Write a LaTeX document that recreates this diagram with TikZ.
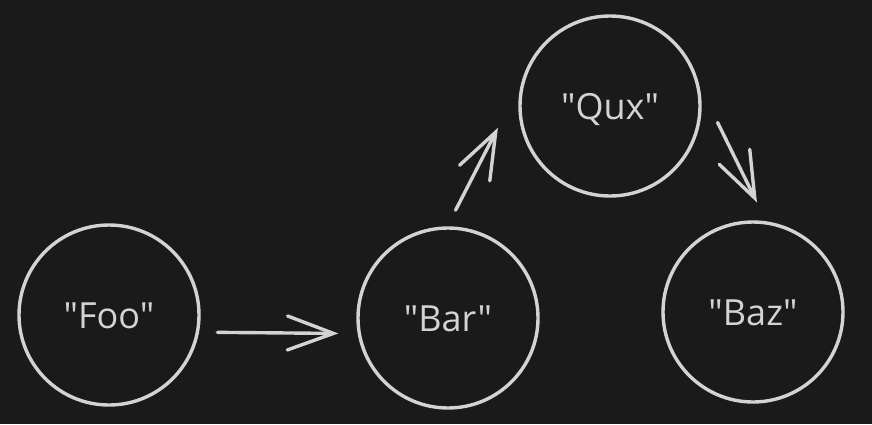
\documentclass[tikz,border=0pt]{standalone}
\usepackage{fontspec}
\newfontfamily\labelfont{Open Sans}
\usepackage[x11names,svgnames]{xcolor}
\usetikzlibrary{arrows.meta}
\definecolor{sketchbg}{HTML}{1A1A1A}
\definecolor{sketchink}{HTML}{D3D3D3}
\tikzset{
  blob/.style={circle,draw=sketchink,line width=3.4pt,minimum size=180pt,inner sep=0pt,outer sep=0pt,
    text=sketchink,font=\labelfont\fontsize{36}{36}\selectfont,text height=26pt,text depth=0pt},
  link/.style={draw=sketchink,line width=3.4pt,line cap=round,
    -{Straight Barb[length=46pt,width=34pt,line cap=round]}}
}
\begin{document}
\begin{tikzpicture}[x=1pt,y=-1pt]
      \fill [sketchbg] (0,0) rectangle (872,424);
      \useasboundingbox (0,0) rectangle (872,424);
      \node [blob] (foo) at (109,315) {"Foo"};
      \node [blob] (bar) at (448,318) {"Bar"};
      \node [blob] (qux) at (610,106) {"Qux"};
      \node [blob] (baz) at (753,312) {"Baz"};
      \draw [link,shorten <=20pt,shorten >=21pt] (foo.-11) -- (bar.190);
      \draw [link,shorten <=20pt,shorten >=64pt] (bar.91)  -- (qux.157);
      \draw [link,shorten <=51pt,shorten >=23pt] (qux.19)  -- (baz.81);
    \end{tikzpicture}
\end{document}
